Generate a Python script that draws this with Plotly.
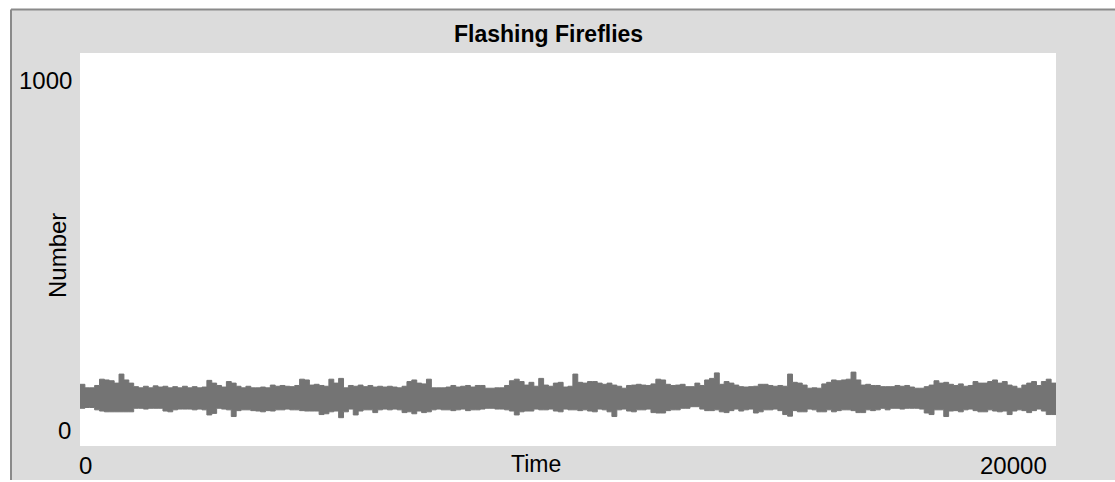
import plotly.graph_objects as go

# Time samples (ticks) at which the band envelope was read
time = list(range(0, 20001, 100))

# Upper envelope of the "Number" series (max flashing count per interval)
upper = [
    157, 148, 148, 154, 170, 168, 166, 160, 183, 168,
    160, 151, 148, 152, 148, 153, 150, 152, 148, 151,
    148, 152, 148, 151, 148, 150, 167, 160, 154, 150,
    164, 160, 152, 148, 152, 148, 148, 150, 148, 155,
    152,
    154, 152, 151, 154, 170, 168, 155, 157, 154, 152,
    170, 160, 172, 148, 154, 152, 155, 151, 154, 150,
    152, 150, 152, 150, 148, 152, 164, 168, 160, 158,
    170, 148, 148, 148, 150, 154, 150, 152, 154, 150,
    154, 154, 147, 147, 148, 148, 154, 166, 170, 164,
    155, 162, 152, 172, 155, 152, 160, 162, 150, 152,
    183, 162, 160, 164, 164, 160, 157, 160, 155, 152,
    147, 154, 155, 157, 155, 154, 158, 170, 168, 157,
    154,
    155, 157, 151, 151, 160, 154, 168, 172, 186, 157,
    164, 160, 155, 151, 150, 151, 152, 157, 157, 154,
    152, 154, 152, 183, 162, 160, 155, 147, 148, 147,
    158, 162, 168, 166, 168, 170, 188, 168, 155, 157,
    154,
    154, 151, 151, 151, 154, 152, 154, 150, 147, 147,
    151, 155, 166, 160, 162, 157, 154, 158, 152, 154,
    164, 160, 160, 164, 168, 160, 164, 155, 152, 147,
    155, 160, 164, 154, 164, 170, 160, 155,
]

# Lower envelope of the "Number" series (min flashing count per interval)
lower = [
    96, 98, 98, 92, 89, 87, 87, 87, 87, 87,
    87, 96, 96, 94, 96, 96, 96, 89, 87, 92,
    94, 94, 94, 92, 94, 92, 79, 83, 96, 94,
    92, 75, 90, 92, 92, 90, 89, 87, 90, 89,
    92,
    92, 94, 92, 92, 90, 89, 89, 89, 80, 82,
    87, 89, 72, 87, 94, 79, 89, 92, 92, 85,
    92, 94, 92, 94, 92, 85, 87, 82, 89, 85,
    87, 92, 94, 92, 92, 90, 92, 94, 90, 92,
    92, 94, 96, 96, 94, 94, 92, 89, 79, 87,
    89, 89, 94, 92, 92, 94, 89, 87, 94, 92,
    92, 90, 92, 89, 87, 94, 92, 87, 75, 92,
    94, 89, 87, 92, 92, 94, 85, 84, 84, 90,
    92,
    92, 96, 96, 100, 100, 94, 90, 90, 92, 87,
    85, 90, 94, 89, 92, 94, 84, 87, 92, 92,
    94, 90, 80, 76, 90, 87, 87, 94, 92, 87,
    87, 92, 87, 90, 92, 92, 90, 85, 85, 92,
    90,
    92, 96, 92, 96, 96, 94, 96, 96, 96, 94,
    84, 80, 92, 92, 75, 89, 90, 87, 92, 94,
    90, 87, 87, 92, 89, 87, 89, 80, 89, 92,
    90, 85, 90, 94, 89, 80, 80, 92,
]

x_range = [0, 20000]
y_range = [0, 1000]
title_text = "Flashing Fireflies"
x_title = "Time"
y_title = "Number"
x_tick_labels = ["0", "20000"]
y_tick_labels = ["0", "1000"]

W, H = 1115, 482
L, R, T, B = 80, 1056, 53, 446
PW, PH = R - L, B - T


def px(xp):
    return (xp - L) / PW


def py(yp):
    return (B - yp) / PH


BAND = "#747474"
PANEL = "#dcdcdc"
FRAME = "#8a8a8a"
FONT = "Liberation Sans, Arial, sans-serif"

fig = go.Figure()
fig.add_trace(go.Scatter(
    x=time, y=lower, mode="lines", line=dict(color=BAND, width=1, shape="hv"),
    hoverinfo="skip", showlegend=False,
))
fig.add_trace(go.Scatter(
    x=time, y=upper, mode="lines", line=dict(color=BAND, width=1, shape="hv"),
    fill="tonexty", fillcolor=BAND, hoverinfo="skip", showlegend=False,
))

shapes = [
    # gray panel
    dict(type="rect", xref="paper", yref="paper", layer="below",
         x0=px(11), x1=px(1130), y0=py(480), y1=py(9.5),
         fillcolor=PANEL, line=dict(width=0)),
    # frame: left and top edges
    dict(type="line", xref="paper", yref="paper", layer="below",
         x0=px(11), x1=px(11), y0=py(480), y1=py(9.5),
         line=dict(color=FRAME, width=2)),
    dict(type="line", xref="paper", yref="paper", layer="below",
         x0=px(11), x1=px(1130), y0=py(9.5), y1=py(9.5),
         line=dict(color=FRAME, width=2)),
    # white plotting area
    dict(type="rect", xref="paper", yref="paper", layer="below",
         x0=0, x1=1, y0=0, y1=1, fillcolor="white", line=dict(width=0)),
]

ann = [
    dict(text="<b>" + title_text + "</b>", x=px(548), y=py(34), xanchor="center",
         yanchor="middle", font=dict(size=23, color="black", family=FONT)),
    dict(text=x_title, x=px(536), y=py(464), xanchor="center", yanchor="middle",
         font=dict(size=23, color="black", family=FONT)),
    dict(text=y_title, x=px(57), y=py(256), xanchor="center", yanchor="middle",
         textangle=-90, font=dict(size=24, color="black", family=FONT)),
    dict(text=x_tick_labels[0], x=px(77), y=py(465), xanchor="left", yanchor="middle",
         font=dict(size=24, color="black", family=FONT)),
    dict(text=x_tick_labels[1], x=px(1049), y=py(465), xanchor="right", yanchor="middle",
         font=dict(size=24, color="black", family=FONT)),
    dict(text=y_tick_labels[0], x=px(73), y=py(430), xanchor="right", yanchor="middle",
         font=dict(size=24, color="black", family=FONT)),
    dict(text=y_tick_labels[1], x=px(74), y=py(80), xanchor="right", yanchor="middle",
         font=dict(size=24, color="black", family=FONT)),
]
for a in ann:
    a.update(xref="paper", yref="paper", showarrow=False)

fig.update_layout(
    width=W, height=H,
    margin=dict(l=L, r=W - R, t=T, b=H - B, pad=0),
    paper_bgcolor="white", plot_bgcolor="rgba(0,0,0,0)",
    shapes=shapes, annotations=ann, showlegend=False,
    xaxis=dict(range=x_range, showgrid=False, zeroline=False, showticklabels=False,
               ticks="", showline=False, fixedrange=True),
    yaxis=dict(range=y_range, showgrid=False, zeroline=False, showticklabels=False,
               ticks="", showline=False, fixedrange=True),
)

fig.write_html(
    "out.html",
    config={"displayModeBar": False},
    post_script="document.body.style.margin='0';document.body.style.overflow='hidden';",
)
